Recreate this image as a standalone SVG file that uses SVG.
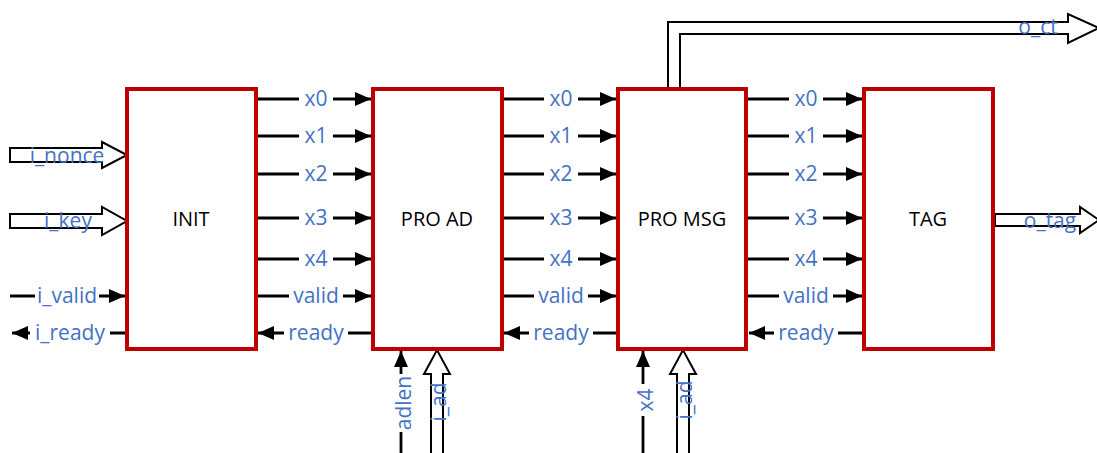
<svg xmlns="http://www.w3.org/2000/svg" width="1097" height="453" viewBox="0 0 1097 453">
<defs>
<marker id="ah" markerWidth="16" markerHeight="14" refX="16" refY="7" orient="auto" markerUnits="userSpaceOnUse">
<path d="M0,0 L16,7 L0,14 Z" fill="#000"/>
</marker>
<style>
.box{fill:#fff;stroke:#C00000;stroke-width:4}
.bl{font-family:"Open Sans","Liberation Sans",sans-serif;font-size:20px;fill:#000;text-anchor:middle;dominant-baseline:central}
.lb{font-family:"Open Sans","Liberation Sans",sans-serif;font-size:21px;fill:#4472C4;text-anchor:middle;dominant-baseline:central}
.w{stroke:#000;stroke-width:2.8;fill:none}
.hol{fill:#fff;stroke:#000;stroke-width:2}
.bg{fill:#fff}
</style>
</defs>
<rect width="1097" height="453" fill="#fff"/>

<g id="connectors">
<path class="hol" d="M10,148 L102,148 L102,142 L127,155 L102,168 L102,162 L10,162 Z"/>
<path class="hol" d="M10,214 L102,214 L102,207 L127,221 L102,235 L102,228 L10,228 Z"/>
<path class="hol" d="M995,214 L1080,214 L1080,207 L1099,220 L1080,233 L1080,226 L995,226 Z"/>
<path class="hol" d="M668,88 L668,22 L1068,22 L1068,14 L1099,28 L1068,43 L1068,34 L680,34 L680,88 Z"/>
<path class="hol" d="M431,455 L431,374 L424,374 L437,350 L450,374 L443,374 L443,455"/>
<path class="hol" d="M677,455 L677,374 L670,374 L683,350 L696,374 L689,374 L689,455"/>

<line class="w" x1="10" y1="296" x2="125" y2="296" marker-end="url(#ah)"/>
<line class="w" x1="125" y1="333" x2="12" y2="333" marker-end="url(#ah)"/>

<line class="w" x1="401" y1="453" x2="401" y2="351" marker-end="url(#ah)"/>
<line class="w" x1="643" y1="453" x2="643" y2="351" marker-end="url(#ah)"/>

<line class="w" x1="257" y1="99" x2="371" y2="99" marker-end="url(#ah)"/>
<line class="w" x1="257" y1="136" x2="371" y2="136" marker-end="url(#ah)"/>
<line class="w" x1="257" y1="174" x2="371" y2="174" marker-end="url(#ah)"/>
<line class="w" x1="257" y1="218" x2="371" y2="218" marker-end="url(#ah)"/>
<line class="w" x1="257" y1="259" x2="371" y2="259" marker-end="url(#ah)"/>
<line class="w" x1="257" y1="296" x2="371" y2="296" marker-end="url(#ah)"/>
<line class="w" x1="371" y1="333" x2="258" y2="333" marker-end="url(#ah)"/>
<line class="w" x1="503" y1="99" x2="616" y2="99" marker-end="url(#ah)"/>
<line class="w" x1="503" y1="136" x2="616" y2="136" marker-end="url(#ah)"/>
<line class="w" x1="503" y1="174" x2="616" y2="174" marker-end="url(#ah)"/>
<line class="w" x1="503" y1="218" x2="616" y2="218" marker-end="url(#ah)"/>
<line class="w" x1="503" y1="259" x2="616" y2="259" marker-end="url(#ah)"/>
<line class="w" x1="503" y1="296" x2="616" y2="296" marker-end="url(#ah)"/>
<line class="w" x1="616" y1="333" x2="504" y2="333" marker-end="url(#ah)"/>
<line class="w" x1="747" y1="99" x2="862" y2="99" marker-end="url(#ah)"/>
<line class="w" x1="747" y1="136" x2="862" y2="136" marker-end="url(#ah)"/>
<line class="w" x1="747" y1="174" x2="862" y2="174" marker-end="url(#ah)"/>
<line class="w" x1="747" y1="218" x2="862" y2="218" marker-end="url(#ah)"/>
<line class="w" x1="747" y1="259" x2="862" y2="259" marker-end="url(#ah)"/>
<line class="w" x1="747" y1="296" x2="862" y2="296" marker-end="url(#ah)"/>
<line class="w" x1="862" y1="333" x2="749" y2="333" marker-end="url(#ah)"/>

<rect class="bg" x="35" y="286" width="64" height="20"/>
<rect class="bg" x="30" y="323" width="80" height="20"/>
<rect class="bg" x="391" y="374" width="20" height="58"/>
<rect class="bg" x="633" y="384" width="20" height="32"/>
<g id="midbg">
<rect class="bg" x="299" y="89" width="34" height="20"/>
<rect class="bg" x="299" y="126" width="34" height="20"/>
<rect class="bg" x="299" y="164" width="34" height="20"/>
<rect class="bg" x="299" y="208" width="34" height="20"/>
<rect class="bg" x="299" y="249" width="34" height="20"/>
<rect class="bg" x="289" y="286" width="54" height="20"/>
<rect class="bg" x="284" y="323" width="64" height="20"/>
</g>
<use href="#midbg" x="245"/>
<use href="#midbg" x="490"/>

<text class="lb" x="67" y="155">i_nonce</text>
<text class="lb" x="68" y="220">i_key</text>
<text class="lb" x="67" y="295">i_valid</text>
<text class="lb" x="70" y="332">i_ready</text>
<text class="lb" x="1050" y="220">o_tag</text>
<text class="lb" x="1038" y="26">o_ct</text>
<text class="lb" transform="translate(403,403) rotate(-90)">adlen</text>
<text class="lb" transform="translate(438,402) rotate(-90)">i_ad</text>
<text class="lb" transform="translate(645,400) rotate(-90)">x4</text>
<text class="lb" transform="translate(684,400) rotate(-90)">i_ad</text>

<g id="midlb">
<text class="lb" x="316" y="98">x0</text>
<text class="lb" x="316" y="135">x1</text>
<text class="lb" x="316" y="173">x2</text>
<text class="lb" x="316" y="217">x3</text>
<text class="lb" x="316" y="258">x4</text>
<text class="lb" x="316" y="295">valid</text>
<text class="lb" x="316" y="332">ready</text>
</g>
<use href="#midlb" x="245"/>
<use href="#midlb" x="490"/>
</g>

<g id="INIT"><rect class="box" x="127" y="89" width="129" height="260"/><text class="bl" x="191" y="218">INIT</text></g>
<g id="PRO_AD"><rect class="box" x="373" y="89" width="129" height="260"/><text class="bl" x="437" y="218">PRO AD</text></g>
<g id="PRO_MSG"><rect class="box" x="618" y="89" width="128" height="260"/><text class="bl" x="682" y="218">PRO MSG</text></g>
<g id="TAG"><rect class="box" x="864" y="89" width="129" height="260"/><text class="bl" x="928" y="218">TAG</text></g>
</svg>
